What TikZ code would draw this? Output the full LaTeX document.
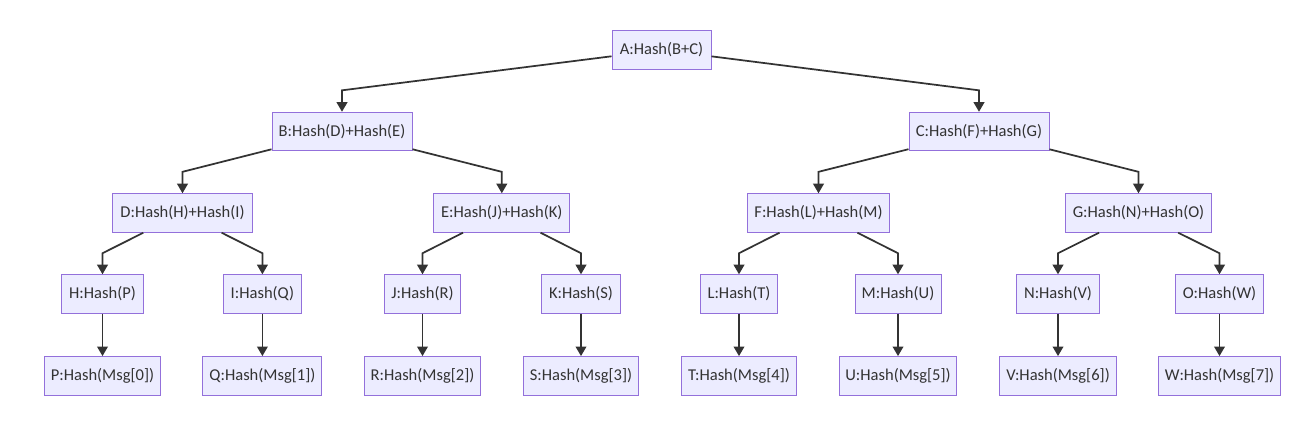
\documentclass[tikz,border=0pt]{standalone}
\usepackage{fontspec}
\setmainfont{Carlito}
\usetikzlibrary{arrows.meta}
\definecolor{nodefill}{HTML}{ECECFF}
\definecolor{nodeborder}{HTML}{9370DB}
\definecolor{edgecol}{HTML}{333333}
\begin{document}
\begin{tikzpicture}[x=0.75pt,y=-0.75pt,
  hbox/.style={draw=nodeborder, fill=nodefill, line width=0.75pt,
    minimum height=28.8pt, inner sep=0pt, text=edgecol,
    font=\fontsize{12.4}{14}\selectfont},
  wd/.style={minimum width=#1*0.75pt},
  link/.style={draw=edgecol, line width=1.3pt,
    -{Triangle[length=7.2pt,width=8pt]}}]
\useasboundingbox[fill=white] (0,0) rectangle (1307,424);
% level 1
\node[hbox,wd=99]  (A) at (661.5,50) {A:Hash(B+C)};
% level 2
\node[hbox,wd=140] (B) at (342,131.5) {B:Hash(D)+Hash(E)};
\node[hbox,wd=140] (C) at (979,131.5) {C:Hash(F)+Hash(G)};
% level 3
\node[hbox,wd=139.6] (D) at (182.5,213) {D:Hash(H)+Hash(I)};
\node[hbox,wd=136]   (E) at (501.8,213) {E:Hash(J)+Hash(K)};
\node[hbox,wd=141.6] (F) at (818.5,213) {F:Hash(L)+Hash(M)};
\node[hbox,wd=146.4] (G) at (1138.5,213) {G:Hash(N)+Hash(O)};
% level 4
\node[hbox,wd=81.6] (H) at (102.5,294) {H:Hash(P)};
\node[hbox,wd=78]   (I) at (262.4,294) {I:Hash(Q)};
\node[hbox,wd=76.7] (J) at (422.5,294) {J:Hash(R)};
\node[hbox,wd=79]   (K) at (581,294) {K:Hash(S)};
\node[hbox,wd=77.4] (L) at (739,294) {L:Hash(T)};
\node[hbox,wd=86]   (M) at (898,294) {M:Hash(U)};
\node[hbox,wd=82.6] (N) at (1058,294) {N:Hash(V)};
\node[hbox,wd=87.6] (O) at (1219.5,294) {O:Hash(W)};
% level 5
\node[hbox,wd=116.4] (P) at (102.5,375.8) {P:Hash(Msg[0])};
\node[hbox,wd=119]   (Q) at (262.4,375.8) {Q:Hash(Msg[1])};
\node[hbox,wd=115.7] (R) at (422.5,375.8) {R:Hash(Msg[2])};
\node[hbox,wd=115.3] (S) at (581,375.8) {S:Hash(Msg[3])};
\node[hbox,wd=115.4] (T) at (739,375.8) {T:Hash(Msg[4])};
\node[hbox,wd=117.7] (U) at (898,375.8) {U:Hash(Msg[5])};
\node[hbox,wd=117]   (V) at (1058,375.8) {V:Hash(Msg[6])};
\node[hbox,wd=121.6] (W) at (1219.5,375.8) {W:Hash(Msg[7])};
% edges with bends
\foreach \p/\c in {A/B,A/C,B/D,B/E,C/F,C/G}
  \draw[link] (\p) -- ([yshift=16.1pt]\c.north) -- (\c);
\foreach \p/\c in {D/H,D/I,E/J,E/K,F/L,F/M,G/N,G/O}
  \draw[link] (\p) -- ([yshift=15.8pt]\c.north) -- (\c);
% straight edges
\foreach \p/\c in {H/P,I/Q,J/R,K/S,L/T,M/U,N/V,O/W}
  \draw[link] (\p) -- (\c);
\end{tikzpicture}
\end{document}
